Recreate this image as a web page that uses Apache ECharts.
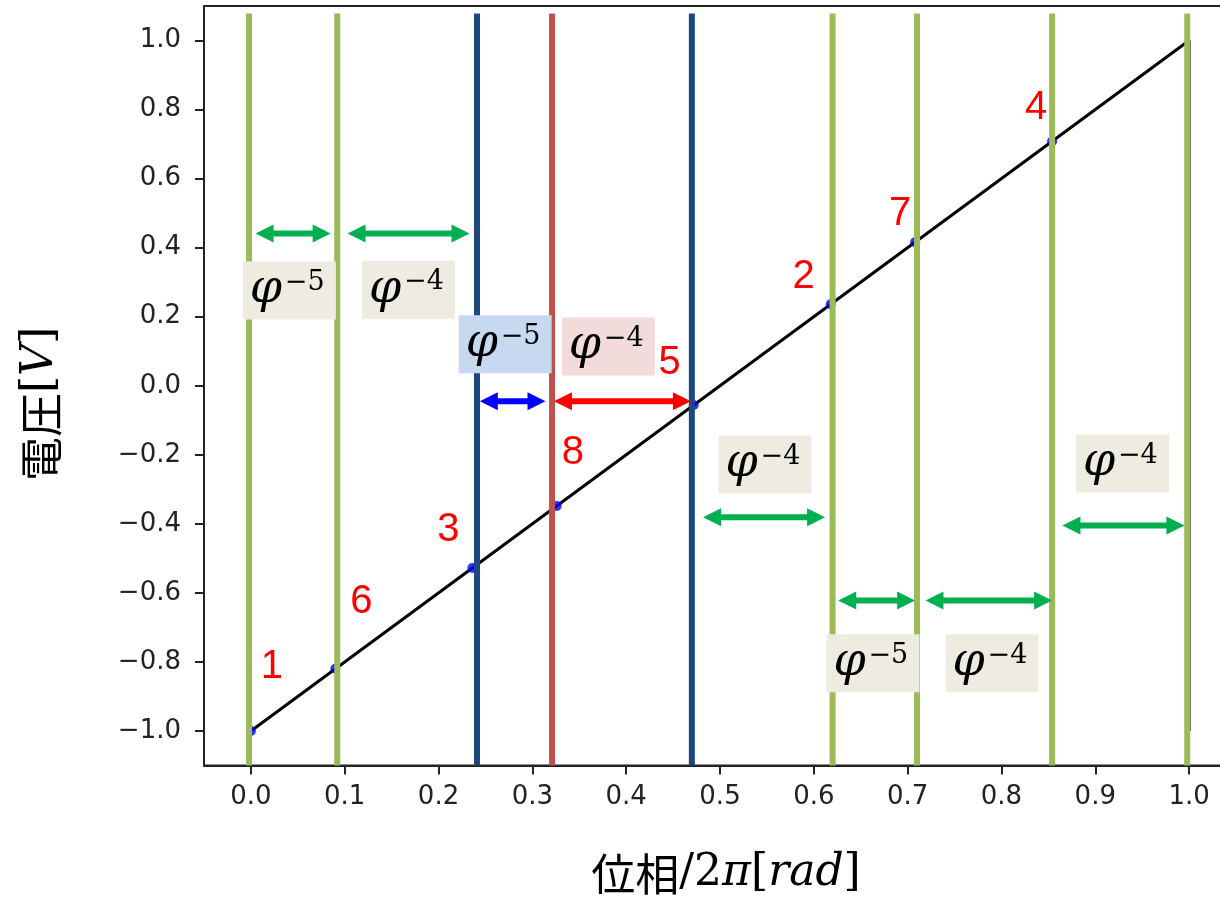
<!DOCTYPE html>
<html>
<head>
<meta charset="utf-8">
<script src="https://cdn.jsdelivr.net/npm/echarts@6/dist/echarts.min.js"></script>
<style>
  html, body { margin: 0; padding: 0; background: #ffffff; overflow: hidden; }
  #chart { width: 1240px; height: 900px; }
</style>
</head>
<body>
<div id="chart"></div>
<script>
// ---- data -------------------------------------------------------------
// Sawtooth reference: phase/2π against voltage (rise, then reset at 1.0)
const sawPhase = [0.0, 1.0, 1.0];
const sawVolt = [-1.0, 1.0, -1.0];

// Sampled points, numbered in sampling order
const sampleNo = [1, 2, 3, 4, 5, 6, 7, 8];
const samplePhase = [0.0, 0.618, 0.236, 0.854, 0.472, 0.090, 0.708, 0.326];
const sampleVolt = [-1.0, 0.236, -0.528, 0.708, -0.056, -0.820, 0.416, -0.348];

// Interval boundaries in phase
const greenCuts = [-0.002, 0.092, 0.620, 0.710, 0.854, 0.998];
const blueCuts = [0.241, 0.470];
const redCuts = [0.321];
const cutTopVolt = 1.078;
const cutBottomVolt = -1.1;

// Gap arrows: from phase, to phase, voltage level, kind (0 green, 1 blue, 2 red)
const gapFrom = [0.005, 0.103, 0.244, 0.323, 0.482, 0.626, 0.719, 0.865];
const gapTo = [0.085, 0.233, 0.314, 0.469, 0.612, 0.708, 0.854, 0.995];
const gapVolt = [0.441, 0.441, -0.045, -0.045, -0.381, -0.622, -0.622, -0.405];
const gapKind = [0, 0, 1, 2, 0, 0, 0, 0];

// Gap size tags φ^n, placed at (phase, voltage)
const tagPhase = [0.041, 0.168, 0.271, 0.381, 0.548, 0.663, 0.790, 0.929];
const tagVolt = [0.276, 0.278, 0.120, 0.114, -0.228, -0.804, -0.804, -0.225];
const tagExp = [-5, -4, -5, -4, -4, -5, -4, -4];
const tagKind = [0, 0, 1, 2, 0, 0, 0, 0];

// Tick labels
const phaseTicks = [0.0, 0.1, 0.2, 0.3, 0.4, 0.5, 0.6, 0.7, 0.8, 0.9, 1.0];
const voltTicks = [-1.0, -0.8, -0.6, -0.4, -0.2, 0.0, 0.2, 0.4, 0.6, 0.8, 1.0];

// ---- styling ----------------------------------------------------------
const cutColors = ['#9bbb59', '#1f497d', '#c0504d'];
const arrowColors = ['#00b050', '#0000ff', '#ff0000'];
const tagFills = ['#eeece1', '#c6d9f1', '#f2dcdb'];
// pixel offset of each sample number from its point
const numberOffset = [[21, -64], [-27, -27], [-24, -38], [-16, -33], [-24, -42], [26, -67], [-15, -28], [16, -53]];
const axisColor = '#222';
const tickFont = 'DejaVu Sans';

const chart = echarts.init(document.getElementById('chart'), null, { renderer: 'canvas' });

function fmtTick(v) {
  return (v < 0 ? '\u2212' : '') + Math.abs(v).toFixed(1);
}

function renderCut(params, api) {
  const x = api.value(0);
  const p0 = api.coord([x, cutTopVolt]);
  const p1 = api.coord([x, cutBottomVolt]);
  return {
    type: 'line',
    shape: { x1: p0[0], y1: p0[1], x2: p1[0], y2: p1[1] },
    style: { stroke: cutColors[api.value(1)], lineWidth: 6 }
  };
}

function renderGap(params, api) {
  const a = api.coord([api.value(0), api.value(2)]);
  const b = api.coord([api.value(1), api.value(2)]);
  const y = a[1], x1 = a[0], x2 = b[0];
  const L = 18, H = 9, h = 3;
  return {
    type: 'polygon',
    shape: {
      points: [[x1, y], [x1 + L, y - H], [x1 + L, y - h], [x2 - L, y - h], [x2 - L, y - H],
               [x2, y], [x2 - L, y + H], [x2 - L, y + h], [x1 + L, y + h], [x1 + L, y + H]]
    },
    style: { fill: arrowColors[api.value(3)] }
  };
}

function renderTag(params, api) {
  const c = api.coord([api.value(0), api.value(1)]);
  const w = 93, h = 58;
  const left = c[0] - w / 2, top = c[1] - h / 2;
  const exp = api.value(2);
  return {
    type: 'group',
    children: [
      { type: 'rect', shape: { x: left, y: top, width: w, height: h }, style: { fill: tagFills[api.value(3)] } },
      { type: 'text', x: left + 7, y: top + 29,
        style: { text: '\u03c6', fontFamily: 'DejaVu Serif', fontStyle: 'italic', fontSize: 46, fill: '#000', align: 'left', verticalAlign: 'middle' } },
      { type: 'text', x: left + 42, y: top + 21.5,
        style: { text: (exp < 0 ? '\u2212' : '') + Math.abs(exp), fontFamily: 'DejaVu Serif', fontSize: 27, fill: '#000', align: 'left', verticalAlign: 'middle' } }
    ]
  };
}

function renderNumber(params, api) {
  const c = api.coord([api.value(0), api.value(1)]);
  const off = numberOffset[params.dataIndex];
  return {
    type: 'text', x: c[0] + off[0], y: c[1] + off[1],
    style: { text: String(api.value(2)), fontFamily: 'Liberation Sans', fontSize: 40, fill: '#ff0000', align: 'center', verticalAlign: 'middle' }
  };
}

const cutData = []
  .concat(greenCuts.map(x => [x, 0]))
  .concat(blueCuts.map(x => [x, 1]))
  .concat(redCuts.map(x => [x, 2]));

const option = {
  animation: false,
  backgroundColor: '#ffffff',
  grid: {
    left: 204, top: 6, width: 1032, height: 759.5,
    show: true, borderColor: axisColor, borderWidth: 2, backgroundColor: 'transparent'
  },
  xAxis: {
    type: 'value', min: -0.05, max: 1.05,
    axisLine: { show: true, onZero: false, lineStyle: { color: axisColor, width: 2 } },
    axisTick: { show: true, customValues: phaseTicks, length: 9, lineStyle: { color: axisColor, width: 2 } },
    axisLabel: { customValues: phaseTicks, formatter: fmtTick, margin: 19, fontFamily: tickFont, fontSize: 26, color: axisColor },
    splitLine: { show: false }
  },
  yAxis: {
    type: 'value', min: -1.1, max: 1.1,
    axisLine: { show: true, onZero: false, lineStyle: { color: axisColor, width: 2 } },
    axisTick: { show: true, customValues: voltTicks, length: 9, lineStyle: { color: axisColor, width: 2 } },
    axisLabel: { customValues: voltTicks, formatter: fmtTick, margin: 23, fontFamily: tickFont, fontSize: 26, color: axisColor },
    splitLine: { show: false }
  },
  graphic: [
    {
      type: 'text', x: 41, y: 404, rotation: Math.PI / 2,
      style: {
        text: '{c|電圧}{b|[}{i|V}{b|]}', align: 'center', verticalAlign: 'middle',
        rich: {
          c: { fontFamily: 'Noto Sans CJK JP', fontSize: 44, fill: '#000' },
          b: { fontFamily: 'DejaVu Serif', fontSize: 44, fill: '#000' },
          i: { fontFamily: 'DejaVu Serif', fontStyle: 'italic', fontSize: 44, fill: '#000' }
        }
      }
    },
    {
      type: 'text', x: 726, y: 874,
      style: {
        text: '{c|位相}{b|/2}{i|π}{b|[}{i|rad}{b|]}', align: 'center', verticalAlign: 'middle',
        rich: {
          c: { fontFamily: 'Noto Sans CJK JP', fontSize: 44, fill: '#000' },
          b: { fontFamily: 'DejaVu Serif', fontSize: 44, fill: '#000' },
          i: { fontFamily: 'DejaVu Serif', fontStyle: 'italic', fontSize: 44, fill: '#000' }
        }
      }
    }
  ],
  series: [
    {
      name: 'sawtooth', type: 'line', z: 2,
      data: sawPhase.map((p, i) => [p, sawVolt[i]]),
      showSymbol: false, symbol: 'none',
      lineStyle: { color: '#000000', width: 3 },
      silent: true
    },
    {
      name: 'samples', type: 'scatter', z: 3,
      data: samplePhase.map((p, i) => [p, sampleVolt[i]]),
      symbol: 'circle', symbolSize: 10,
      itemStyle: { color: '#0000ff' }
    },
    {
      name: 'cuts', type: 'custom', z: 4, clip: false,
      data: cutData, encode: { x: 0, y: 1 },
      renderItem: renderCut
    },
    {
      name: 'gaps', type: 'custom', z: 5, clip: false,
      data: gapFrom.map((f, i) => [f, gapTo[i], gapVolt[i], gapKind[i]]),
      encode: { x: [0, 1], y: 2 },
      renderItem: renderGap
    },
    {
      name: 'tags', type: 'custom', z: 6, clip: false,
      data: tagPhase.map((p, i) => [p, tagVolt[i], tagExp[i], tagKind[i]]),
      encode: { x: 0, y: 1 },
      renderItem: renderTag
    },
    {
      name: 'numbers', type: 'custom', z: 7, clip: false,
      data: samplePhase.map((p, i) => [p, sampleVolt[i], sampleNo[i]]),
      encode: { x: 0, y: 1 },
      renderItem: renderNumber
    }
  ]
};

chart.setOption(option);
</script>
</body>
</html>
